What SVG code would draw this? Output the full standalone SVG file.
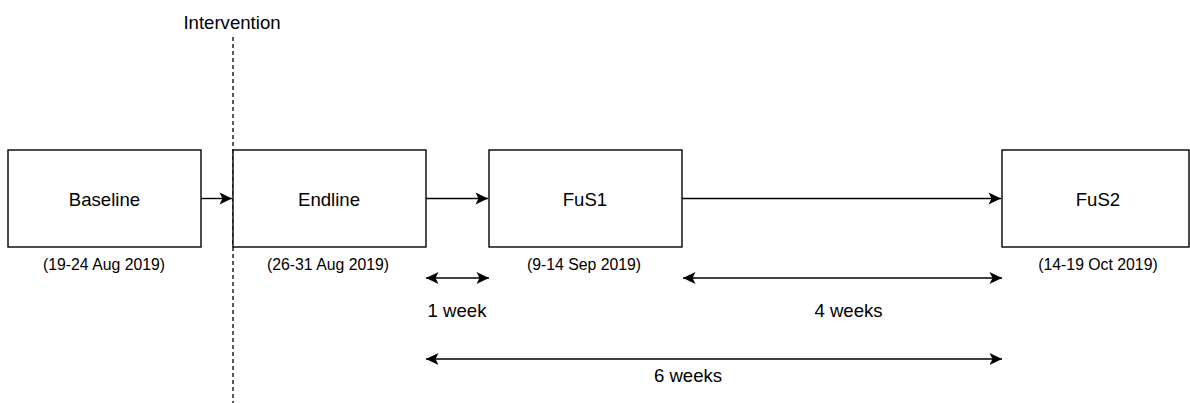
<svg xmlns="http://www.w3.org/2000/svg" width="1190" height="403" viewBox="0 0 1190 403">
<defs>
<style>
.box{fill:#fff;stroke:#000;stroke-width:1.4}
.lbl{font-family:"Liberation Sans",Arial,sans-serif;font-size:18.6px;fill:#000;text-anchor:middle}
.date{font-family:"Liberation Sans",Arial,sans-serif;font-size:15.8px;fill:#000;text-anchor:middle}
.ln{fill:none;stroke:#000;stroke-width:1.4}
</style>
<marker id="ah" markerUnits="userSpaceOnUse" markerWidth="14" markerHeight="14" viewBox="-13 -7 14 14" refX="0" refY="0" orient="auto-start-reverse">
<path d="M0,0 L-12.5,-6 L-9.5,0 L-12.5,6 Z" fill="#000"/>
</marker>
</defs>
<rect width="1190" height="403" fill="#fff"/>
<g id="intervention">
<line x1="233" y1="37" x2="233" y2="403" stroke="#000" stroke-width="1.3" stroke-dasharray="4 3"/>
<text class="lbl" x="232" y="29">Intervention</text>
</g>
<g id="baseline">
<rect class="box" x="8" y="150" width="193" height="97"/>
<text class="lbl" x="104.5" y="205.5">Baseline</text>
<text class="date" x="104" y="270">(19-24 Aug 2019)</text>
</g>
<g id="endline">
<rect class="box" x="233" y="150" width="193" height="97"/>
<text class="lbl" x="329" y="205.5">Endline</text>
<text class="date" x="328" y="270">(26-31 Aug 2019)</text>
</g>
<g id="fus1">
<rect class="box" x="489" y="150" width="193" height="97"/>
<text class="lbl" x="585" y="205.5">FuS1</text>
<text class="date" x="584" y="270">(9-14 Sep 2019)</text>
</g>
<g id="fus2">
<rect class="box" x="1002" y="150" width="187" height="97"/>
<text class="lbl" x="1098" y="205.5">FuS2</text>
<text class="date" x="1098" y="270">(14-19 Oct 2019)</text>
</g>
<g id="connectors">
<line class="ln" x1="201" y1="198.5" x2="232" y2="198.5" marker-end="url(#ah)"/>
<line class="ln" x1="426" y1="198.5" x2="488" y2="198.5" marker-end="url(#ah)"/>
<line class="ln" x1="682" y1="198.5" x2="1001" y2="198.5" marker-end="url(#ah)"/>
<line class="ln" x1="426" y1="278" x2="489" y2="278" marker-start="url(#ah)" marker-end="url(#ah)"/>
<line class="ln" x1="683" y1="278" x2="1002" y2="278" marker-start="url(#ah)" marker-end="url(#ah)"/>
<line class="ln" x1="426" y1="359" x2="1002" y2="359" marker-start="url(#ah)" marker-end="url(#ah)"/>
</g>
<g id="labels">
<text class="lbl" x="457" y="317">1 week</text>
<text class="lbl" x="848.5" y="317">4 weeks</text>
<text class="lbl" x="688" y="382">6 weeks</text>
</g>
</svg>
